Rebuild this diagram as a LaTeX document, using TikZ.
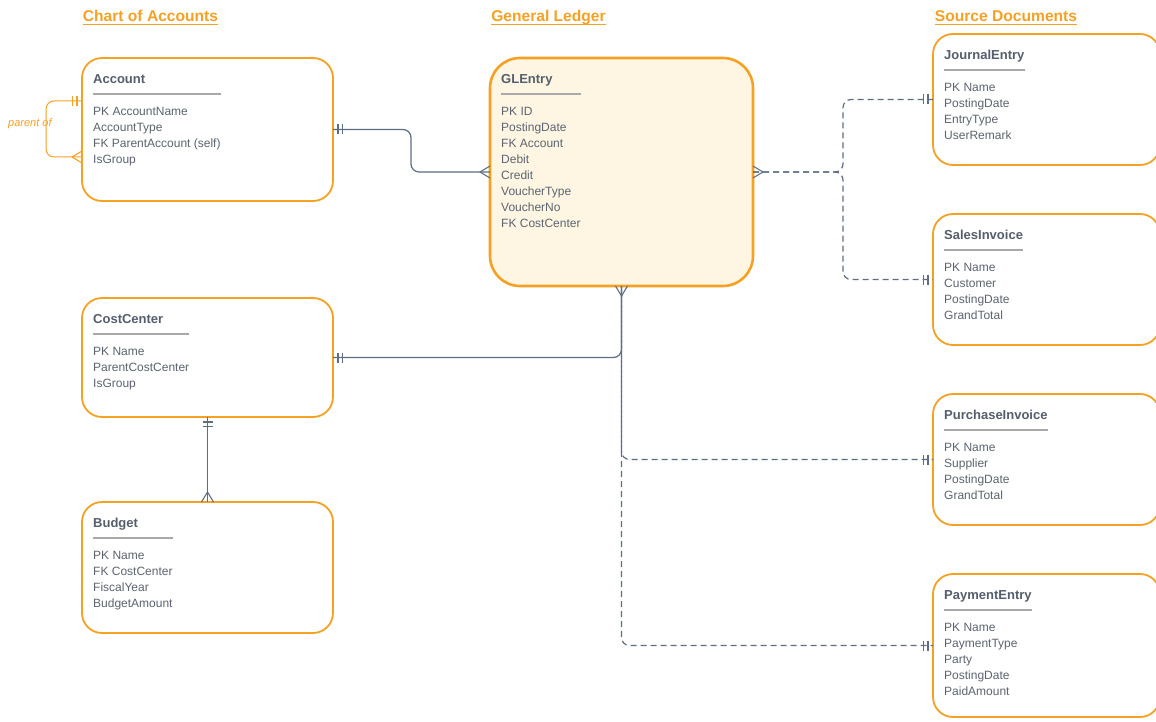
\documentclass[tikz,border=0pt]{standalone}
\usepackage{fontspec}
\setmainfont{Liberation Sans}
\usetikzlibrary{calc}
\definecolor{org}{HTML}{F4A124}
\definecolor{glfill}{HTML}{FEF6E3}
\definecolor{ink}{HTML}{555E6C}
\definecolor{fldc}{HTML}{5C6470}
\definecolor{conn}{HTML}{5E6E82}
\definecolor{ulc}{HTML}{A9A9A9}
\tikzset{
  box/.style={draw=org, line width=1.8pt, rounded corners=20pt, fill=white, inner sep=0pt, outer sep=0pt},
  glbox/.style={line width=2.6pt, rounded corners=30pt, fill=glfill},
  ttl/.style={font=\fontsize{13}{16}\selectfont\bfseries, text=ink, inner sep=0pt},
  fld/.style={font=\fontsize{12}{16}\selectfont, text=fldc, inner sep=0pt, align=left},
  ul/.style={draw=ulc, line width=2pt},
  hdr/.style={font=\fontsize{15.6}{18}\selectfont\bfseries, text=org, inner sep=0pt, anchor=base},
  hdrul/.style={draw=org, line width=1.4pt},
  rel/.style={draw=conn, line width=1.2pt, rounded corners=8pt},
  reld/.style={rel, dash pattern=on 6pt off 4pt},
  crowfoot/.pic={\draw[pic actions, line width=1.1pt] (-10,0) -- (0,6) (-10,0) -- (0,-6);},
  onebar/.pic={\draw[pic actions, line width=1.1pt] (-5,-5) -- (-5,5) (-9.5,-5) -- (-9.5,5);},
}
\newcommand\entity[8]{%
  \node[box,#8,minimum width={#4-#2},minimum height={#5-#3}] (#1) at ({(#2+#4)/2},{(#3+#5)/2}) {};
  \node[ttl,anchor=base west] (#1-t) at ([shift={(11,25.7)}]#1.north west) {#6};
  \node[fld,anchor=north west] (#1-f) at ([shift={(11,49.2)}]#1.north west) {#7};
  \draw[ul] let \p1=(#1-t.east), \p2=(#1-f.east), \p3=([shift={(11,36)}]#1.north west) in (\p3) -- ({max(\x1,\x2)},\y3);
}
\begin{document}
\begin{tikzpicture}[x=1pt,y=-1pt]
\useasboundingbox[fill=white] (0,0) rectangle (1156,722);

% headers
\node[hdr] (h1) at (150.5,21.6) {Chart of Accounts};
\node[hdr] (h2) at (548.5,21.6) {General Ledger};
\node[hdr] (h3) at (1006,21.6) {Source Documents};
\foreach \h in {h1,h2,h3} {\draw[hdrul] ([yshift=-3pt]\h.base west) -- ([yshift=-3pt]\h.base east);}

% entities
\entity{acc}{82}{58}{333}{201}{Account}{PK AccountName\\AccountType\\FK ParentAccount (self)\\IsGroup}{}
\entity{gl}{490}{58}{753}{286}{GLEntry}{PK ID\\PostingDate\\FK Account\\Debit\\Credit\\VoucherType\\VoucherNo\\FK CostCenter}{glbox}
\entity{cc}{82}{298}{333}{417}{CostCenter}{PK Name\\ParentCostCenter\\IsGroup}{}
\entity{bud}{82}{502}{333}{633}{Budget}{PK Name\\FK CostCenter\\FiscalYear\\BudgetAmount}{}
\entity{je}{933}{34}{1160}{165}{JournalEntry}{PK Name\\PostingDate\\EntryType\\UserRemark}{}
\entity{si}{933}{214}{1160}{345}{SalesInvoice}{PK Name\\Customer\\PostingDate\\GrandTotal}{}
\entity{pi}{933}{394}{1160}{525}{PurchaseInvoice}{PK Name\\Supplier\\PostingDate\\GrandTotal}{}
\entity{pe}{933}{574}{1160}{717}{PaymentEntry}{PK Name\\PaymentType\\Party\\PostingDate\\PaidAmount}{}

% self relation on Account
\coordinate (lt) at ([shift={(0,-28.5)}]acc.west);
\coordinate (lb) at ([shift={(0,27.5)}]acc.west);
\draw[rel, draw=org, line width=1pt] (lt) -- ++(-36,0) |- (lb);
\node[font=\fontsize{11}{13}\selectfont\itshape, text=org, inner sep=0pt, anchor=west] (po) at (8,124) {parent of};
\pic[draw=org] at (lt) {onebar};
\pic[draw=org] at (lb) {crowfoot};

% solid relations
\draw[rel] (acc.east) -- ++(78,0) |- (gl.west);
\draw[rel] (cc.east) -| (gl.south);
\draw[rel] (cc.south) -- (bud.north);

% dashed relations
\draw[reld] (gl.east) -- ++(90,0) |- (je.west);
\draw[reld] (gl.east) -- ++(90,0) |- (si.west);
\draw[reld] (gl.south) |- (pi.west);
\draw[reld, dash phase=5pt] (gl.south) |- (pe.west);

% cardinality marks
\pic[draw=conn, rotate=180] at (acc.east) {onebar};
\pic[draw=conn] at (gl.west) {crowfoot};
\pic[draw=conn, rotate=180] at (cc.east) {onebar};
\pic[draw=conn, rotate=90] at (gl.south) {crowfoot};
\pic[draw=conn, rotate=90] at (cc.south) {onebar};
\pic[draw=conn, rotate=-90] at (bud.north) {crowfoot};
\pic[draw=conn, rotate=180] at (gl.east) {crowfoot};
\pic[draw=conn] at (je.west) {onebar};
\pic[draw=conn] at (si.west) {onebar};
\pic[draw=conn] at (pi.west) {onebar};
\pic[draw=conn] at (pe.west) {onebar};
\end{tikzpicture}
\end{document}
